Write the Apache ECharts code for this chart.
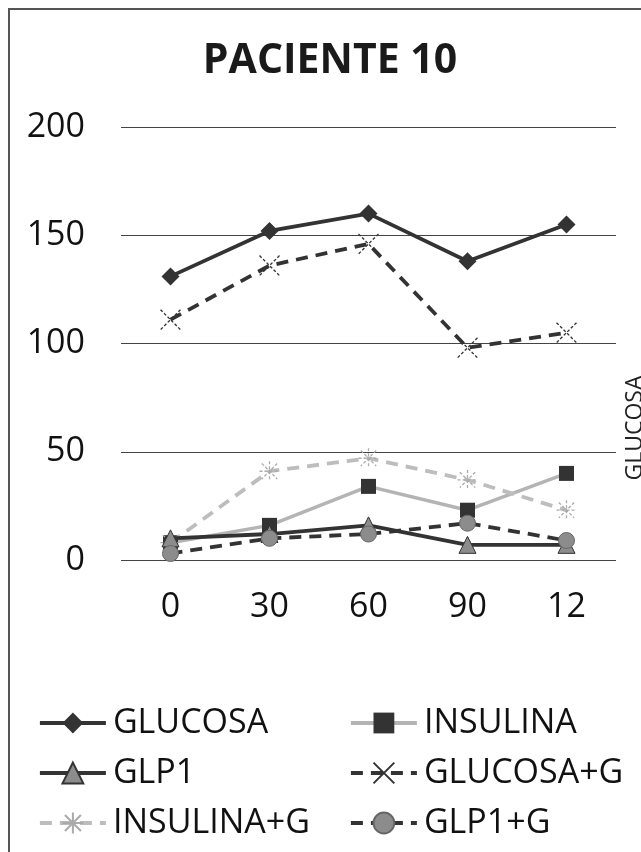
<!DOCTYPE html>
<html>
<head>
<meta charset="utf-8">
<script src="https://cdn.jsdelivr.net/npm/echarts@6/dist/echarts.min.js"></script>
<style>
  html, body { margin: 0; padding: 0; background: #fff; }
  #chart { width: 641px; height: 852px; }
</style>
</head>
<body>
<div id="chart"></div>
<script>
// Sampling times (minutes) and measured series
var categories = ['0', '30', '60', '90', '12'];
var glucosa    = [131, 152, 160, 138, 155];
var insulina   = [8, 16, 34, 23, 40];
var glp1       = [10, 12, 16, 7, 7];
var glucosaG   = [111, 136, 146, 98, 105];
var insulinaG  = [8, 41, 47, 37, 23];
var glp1G      = [3, 10, 12, 17, 9];

var yTicks = { min: 0, max: 200, interval: 50 };

var FONT = '"Open Sans", "Noto Sans", sans-serif';
var DARK = '#333333';
var LIGHT = '#b4b4b4';

var crossPath = 'path://M0,0L10,10M10,0L0,10';
var starPath = 'path://M0,0L10,10M10,0L0,10M5,-1.5L5,11.5M-1.5,5L11.5,5';

function lineSeries(name, data, o) {
  return {
    name: name,
    type: 'line',
    data: data,
    symbol: o.symbol,
    symbolSize: o.size,
    z: o.z || 2,
    lineStyle: { color: o.line, width: o.width || 3.8, type: o.dash ? [12, 8] : 'solid' },
    itemStyle: o.item,
    emphasis: { disabled: true }
  };
}

var series = [
  lineSeries('GLUCOSA', glucosa, {
    symbol: 'diamond', size: 18, line: DARK,
    item: { color: DARK }
  }),
  lineSeries('INSULINA', insulina, {
    symbol: 'rect', size: 15, line: LIGHT, width: 3.5,
    item: { color: DARK }
  }),
  lineSeries('GLP1', glp1, {
    symbol: 'triangle', size: 17, line: DARK, z: 3,
    item: { color: '#8c8c8c', borderColor: DARK, borderWidth: 1 }
  }),
  lineSeries('GLUCOSA+G', glucosaG, {
    symbol: crossPath, size: 20, line: DARK, dash: true,
    item: { color: 'none', borderColor: DARK, borderWidth: 1.3, borderType: [3, 2] }
  }),
  lineSeries('INSULINA+G', insulinaG, {
    symbol: starPath, size: 20, line: '#bdbdbd', dash: true,
    item: { color: 'none', borderColor: '#aaaaaa', borderWidth: 1.3, borderType: [3, 2] }
  }),
  lineSeries('GLP1+G', glp1G, {
    symbol: 'circle', size: 16, line: DARK, dash: true, z: 4,
    item: { color: '#8c8c8c', borderColor: '#666', borderWidth: 1 }
  })
];

function legendColumn(names, left) {
  return {
    data: names,
    orient: 'vertical',
    left: left,
    top: 698,
    itemWidth: 66,
    itemHeight: 26,
    itemGap: 10,
    selectedMode: false,
    lineStyle: { width: 3.8 },
    textStyle: { fontFamily: FONT, fontSize: 34, color: '#111', lineHeight: 40, padding: [0, 0, 0, 2] }
  };
}

var chart = echarts.init(document.getElementById('chart'), null, { renderer: 'canvas' });
chart.setOption({
  animation: false,
  backgroundColor: '#ffffff',
  title: {
    text: 'PACIENTE 10',
    left: 325,
    textAlign: 'center',
    top: 36,
    textStyle: { fontFamily: FONT, fontSize: 41, fontWeight: 'bold', color: '#1a1a1a' }
  },
  grid: { left: 121, right: 25, top: 127, bottom: 292, containLabel: false },
  xAxis: {
    type: 'category',
    data: categories,
    boundaryGap: true,
    axisLine: { show: false },
    axisTick: { show: false },
    axisLabel: { fontFamily: FONT, fontSize: 34, color: '#111', margin: 30 }
  },
  yAxis: {
    type: 'value',
    min: yTicks.min,
    max: yTicks.max,
    interval: yTicks.interval,
    axisLine: { show: false },
    axisTick: { show: false },
    axisLabel: { fontFamily: FONT, fontSize: 34, color: '#111', margin: 36 },
    splitLine: { lineStyle: { color: '#444', width: 1.2 } }
  },
  legend: [
    legendColumn(['GLUCOSA', 'GLP1', 'INSULINA+G'], 33),
    legendColumn(['INSULINA', 'GLUCOSA+G', 'GLP1+G'], 344)
  ],
  series: series,
  graphic: [
    {
      type: 'rect',
      shape: { x: 9, y: 9, width: 700, height: 900 },
      style: { fill: 'none', stroke: '#555', lineWidth: 2 },
      silent: true
    },
    {
      type: 'text',
      x: 647,
      y: 428,
      rotation: Math.PI / 2,
      style: {
        text: 'GLUCOSA',
        fontFamily: FONT,
        fontSize: 23,
        fill: '#222',
        align: 'center',
        verticalAlign: 'bottom'
      },
      silent: true
    }
  ]
});
</script>
</body>
</html>
